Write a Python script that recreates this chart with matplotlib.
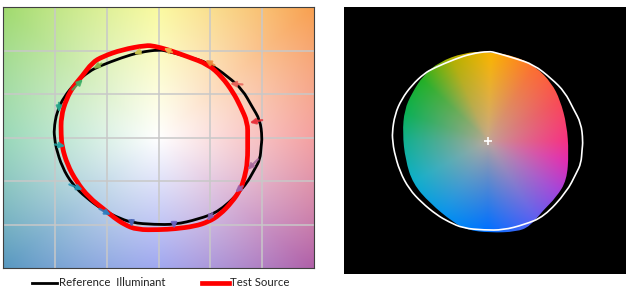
import numpy as np
import matplotlib.pyplot as plt
from matplotlib.patches import PathPatch
from matplotlib.path import Path
from matplotlib.lines import Line2D
from matplotlib.colors import to_rgb

# reference illuminant gamut, normalised (a', b'), counter-clockwise from +a'
ref_x = [1.00, 0.98, 0.90, 0.81, 0.67, 0.48, 0.28, 0.09, 0.01, -0.18, -0.35, -0.57,
         -0.67, -0.80, -0.91, -0.98, -1.01, -1.00, -0.99, -0.93, -0.83, -0.70, -0.54,
         -0.41, -0.26, -0.04, 0.16, 0.38, 0.59, 0.83, 0.93, 0.98, 0.99]
ref_y = [0.00, 0.20, 0.36, 0.55, 0.70, 0.86, 0.93, 0.99, 1.01, 0.98, 0.92, 0.82,
         0.76, 0.63, 0.47, 0.30, 0.09, -0.02, -0.11, -0.34, -0.54, -0.69, -0.83,
         -0.91, -0.98, -1.00, -1.00, -0.94, -0.85, -0.57, -0.36, -0.25, -0.10]

# test source gamut
test_x = [0.86, 0.86, 0.79, 0.72, 0.61, 0.48, 0.28, 0.09, -0.04, -0.12, -0.35, -0.54,
          -0.64, -0.74, -0.82, -0.89, -0.94, -0.94, -0.93, -0.88, -0.79, -0.67, -0.52,
          -0.43, -0.33, -0.21, 0.01, 0.16, 0.35, 0.48, 0.59, 0.71, 0.79, 0.83, 0.86]
test_y = [0.00, 0.17, 0.36, 0.52, 0.70, 0.84, 0.93, 1.01, 1.05, 1.06, 1.01, 0.93,
          0.86, 0.70, 0.59, 0.44, 0.24, 0.03, -0.11, -0.31, -0.51, -0.69, -0.83,
          -0.92, -1.00, -1.06, -1.06, -1.05, -1.02, -0.97, -0.89, -0.74, -0.60, -0.46, -0.28]

# test gamut as drawn in the colour distortion graphic
dist_x = [-0.01, 0.30, 0.51, 0.67, 0.76, 0.83, 0.85, 0.83, 0.72, 0.58, 0.44, 0.30,
          0.02, -0.22, -0.37, -0.61, -0.79, -0.87, -0.90, -0.88, -0.80, -0.68, -0.51, -0.26]
dist_y = [1.01, 0.95, 0.83, 0.65, 0.46, 0.18, -0.13, -0.44, -0.63, -0.78, -0.96, -1.02,
          -1.03, -1.00, -0.91, -0.70, -0.48, -0.21, 0.09, 0.35, 0.54, 0.74, 0.89, 0.99]

# hue-bin shift vectors (16 bins): reference -> test
bin_x0 = [1.00, 0.81, 0.54, 0.13, -0.17, -0.55, -0.83, -0.96, -1.00, -0.86, -0.57, -0.26, 0.15, 0.52, 0.81, 0.96]
bin_y0 = [0.20, 0.61, 0.83, 0.98, 0.99, 0.85, 0.55, 0.40, -0.08, -0.54, -0.82, -0.95, -0.98, -0.87, -0.56, -0.25]
bin_x1 = [0.88, 0.69, 0.45, 0.05, -0.24, -0.63, -0.73, -0.96, -0.90, -0.73, -0.46, -0.26, 0.15, 0.47, 0.74, 0.86]
bin_y1 = [0.17, 0.62, 0.89, 1.03, 0.96, 0.79, 0.67, 0.29, -0.10, -0.60, -0.89, -1.03, -1.05, -0.96, -0.63, -0.37]
bin_colors = ['#e8323c', '#e8645a', '#ee8a3a', '#e8b44a', '#c8c24a', '#86b24a', '#3eae66', '#26a48a',
              '#22a2a2', '#2294b4', '#2a7ec0', '#4a64b4', '#6a62c0', '#8464b4', '#9a64ac', '#a86a9e']


def hue_field(X, Y, angles, colors, center, rmax, power):
    theta = np.degrees(np.arctan2(Y, X)) % 360
    rgb = np.array([to_rgb(c) for c in colors])
    ang = np.append(angles, 360)
    rgb = np.vstack([rgb, rgb[:1]])
    img = np.stack([np.interp(theta, ang, rgb[:, k]) for k in range(3)], -1)
    t = np.clip(np.hypot(X, Y) / rmax, 0, 1) ** power
    return np.array(to_rgb(center)) + (img - np.array(to_rgb(center))) * t[..., None]


def closed_curve(xs, ys):
    # smooth closed path using the read points as quadratic control points
    p = np.column_stack([xs, ys])
    m = (p + np.roll(p, -1, axis=0)) / 2
    verts = [m[-1]]
    codes = [Path.MOVETO]
    for i in range(len(p)):
        verts += [p[i], m[i]]
        codes += [Path.CURVE3, Path.CURVE3]
    return Path(verts, codes)


fig = plt.figure(figsize=(6.26, 2.93), dpi=100)
plt.rcParams['font.family'] = ['Lato', 'DejaVu Sans']

# ---- left: colour vector graphic ----
ax = fig.add_axes([3/626, 25/293, 311/626, 261/293])
g = np.linspace(-1.5, 1.5, 400)
X, Y = np.meshgrid(g, g[::-1])
bg = hue_field(X, Y, [0, 45, 90, 135, 180, 225, 270, 315],
               ['#f07979', '#f8a050', '#f8f879', '#a0da6e', '#6ec89b', '#5898c0', '#7984ea', '#b060a8'],
               'white', 2.12, 1.0)
ax.imshow(bg, extent=(-1.5, 1.5, -1.5, 1.5), aspect='auto', zorder=0)
for v in [-1, -0.5, 0, 0.5, 1]:
    ax.axvline(v, color='#c8c8c8', lw=1.1, zorder=1)
    ax.axhline(v, color='#c8c8c8', lw=1.1, zorder=1)
ax.add_patch(PathPatch(closed_curve(ref_x, ref_y), fill=False, edgecolor='black', lw=2.0, zorder=2))
ax.add_patch(PathPatch(closed_curve(test_x, test_y), fill=False, edgecolor='#ff0000', lw=3.4, zorder=3))
for x0, y0, x1, y1, c in zip(bin_x0, bin_y0, bin_x1, bin_y1, bin_colors):
    ax.annotate('', xy=(x1, y1), xytext=(x0, y0),
                arrowprops=dict(arrowstyle='-|>', color=c, lw=1.6, alpha=0.85,
                                mutation_scale=8, shrinkA=0, shrinkB=0), zorder=4)
ax.set_xlim(-1.5, 1.5)
ax.set_ylim(-1.5, 1.5)
ax.set_xticks([])
ax.set_yticks([])
for s in ax.spines.values():
    s.set_color('#404040')
    s.set_linewidth(0.8)

# legend
yl = 1 - 283/293
fig.add_artist(Line2D([32/626, 57/626], [yl, yl], color='black', lw=2.0, transform=fig.transFigure))
fig.text(59/626, yl, 'Reference  Illuminant', fontsize=8.2, va='center', ha='left', color='#222222')
fig.add_artist(Line2D([202/626, 229/626], [yl, yl], color='#ff0000', lw=3.4, transform=fig.transFigure))
fig.text(230/626, yl, 'Test Source', fontsize=8.2, va='center', ha='left', color='#222222')

# ---- right: colour distortion graphic ----
ax2 = fig.add_axes([344/626, 19/293, 282/626, 267/293])
ax2.set_facecolor('black')
x2 = (-1.516, 1.453)
y2 = (-1.494, 1.506)
X2, Y2 = np.meshgrid(np.linspace(*x2, 400), np.linspace(*y2, 400)[::-1])
fill = hue_field(X2, Y2, [0, 30, 60, 88, 112, 135, 160, 180, 210, 240, 270, 300, 322, 345],
                 ['#ff1f80', '#ff4050', '#ff6e2c', '#fbb400', '#b4b000', '#20b024', '#00b050',
                  '#00b090', '#00b0d0', '#0094f0', '#0070ff', '#6060f0', '#a040e0', '#e61eb4'],
                 '#c0a898', 1.0, 0.8)
im = ax2.imshow(fill, extent=(x2[0], x2[1], y2[0], y2[1]), aspect='auto', zorder=1)
gamut = PathPatch(closed_curve(dist_x, dist_y), transform=ax2.transData,
                  facecolor='none', edgecolor='none')
ax2.add_patch(gamut)
im.set_clip_path(gamut)
ax2.add_patch(PathPatch(closed_curve(ref_x, ref_y), fill=False, edgecolor='white', lw=1.2, zorder=2))
ax2.plot(0, 0, '+', color='white', ms=6, mew=1.2, zorder=3)
ax2.set_xlim(*x2)
ax2.set_ylim(*y2)
ax2.set_xticks([])
ax2.set_yticks([])
for s in ax2.spines.values():
    s.set_visible(False)

fig.savefig('out.png', dpi=100)
